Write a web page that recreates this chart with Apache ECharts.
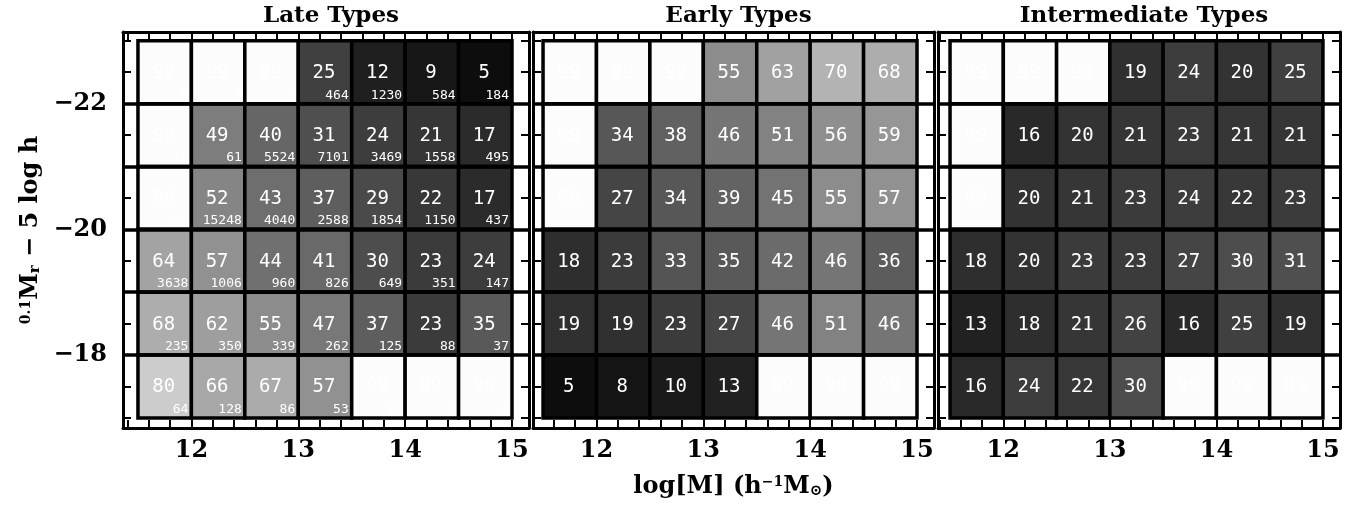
<!DOCTYPE html>
<html>
<head>
<meta charset="utf-8">
<script src="https://cdn.jsdelivr.net/npm/echarts@6.0.0/dist/echarts.min.js"></script>
<style>
html,body{margin:0;padding:0;background:#fff;}
#chart{width:1355px;height:506px;}
</style>
</head>
<body>
<div id="chart"></div>
<script>
// ---- data ----
const massEdges = [11.5, 12, 12.5, 13, 13.5, 14, 14.5, 15];
const magEdges = [-23, -22, -21, -20, -19, -18, -17];
const panelTitles = ['Late Types', 'Early Types', 'Intermediate Types'];
const xTickLabels = [12, 13, 14, 15];
const yTickLabels = [-22, -20, -18];
const xMinorTicks = [11.4, 11.6, 11.8, 12.0, 12.2, 12.4, 12.6, 12.8, 13.0, 13.2, 13.4, 13.6, 13.8, 14.0, 14.2, 14.4, 14.6, 14.8, 15.0];
const yMinorTicks = [-23, -22.5, -22, -21.5, -21, -20.5, -20, -19.5, -19, -18.5, -18, -17.5, -17];

// rows: top (-23..-22) to bottom (-18..-17); columns: 11.5-12 ... 14.5-15
const lateFrac = [
  [99, 99, 99, 25, 12, 9, 5],
  [99, 49, 40, 31, 24, 21, 17],
  [99, 52, 43, 37, 29, 22, 17],
  [64, 57, 44, 41, 30, 23, 24],
  [68, 62, 55, 47, 37, 23, 35],
  [80, 66, 67, 57, 99, 99, 99]
];
const lateCount = [
  [0, 0, 0, 464, 1230, 584, 184],
  [0, 61, 5524, 7101, 3469, 1558, 495],
  [22, 15248, 4040, 2588, 1854, 1150, 437],
  [3638, 1006, 960, 826, 649, 351, 147],
  [235, 350, 339, 262, 125, 88, 37],
  [64, 128, 86, 53, 27, 0, 0]
];
const earlyFrac = [
  [99, 99, 99, 55, 63, 70, 68],
  [99, 34, 38, 46, 51, 56, 59],
  [99, 27, 34, 39, 45, 55, 57],
  [18, 23, 33, 35, 42, 46, 36],
  [19, 19, 23, 27, 46, 51, 46],
  [5, 8, 10, 13, 99, 99, 99]
];
const interFrac = [
  [99, 99, 99, 19, 24, 20, 25],
  [99, 16, 20, 21, 23, 21, 21],
  [99, 20, 21, 23, 24, 22, 23],
  [18, 20, 23, 23, 27, 30, 31],
  [13, 18, 21, 26, 16, 25, 19],
  [16, 24, 22, 30, 99, 99, 99]
];

// ---- layout ----
const panels = [
  {left: 123, width: 406, xmin: 11.360, xmax: 15.159, frac: lateFrac, count: lateCount},
  {left: 533, width: 401, xmin: 11.406, xmax: 15.159, frac: earlyFrac, count: null},
  {left: 938, width: 402, xmin: 11.387, xmax: 15.160, frac: interFrac, count: null}
];
const gridTop = 32, gridHeight = 396;
const yMin = -23.14, yMax = -16.84;

function buildData(frac, count) {
  const out = [];
  for (let r = 0; r < magEdges.length - 1; r++) {
    for (let c = 0; c < massEdges.length - 1; c++) {
      out.push([massEdges[c], massEdges[c + 1], magEdges[r], magEdges[r + 1],
        frac[r][c], count ? count[r][c] : -1]);
    }
  }
  return out;
}

function renderItem(params, api) {
  const a = api.coord([api.value(0), api.value(2)]);
  const b = api.coord([api.value(1), api.value(3)]);
  const left = Math.min(a[0], b[0]), top = Math.min(a[1], b[1]);
  const w = Math.abs(b[0] - a[0]), h = Math.abs(b[1] - a[1]);
  const frac = api.value(4), cnt = api.value(5);
  const children = [
    {type: 'rect', shape: {x: left, y: top, width: w, height: h},
     style: {fill: api.visual('color'), stroke: '#000', lineWidth: 3.5}},
    {type: 'text', z2: 10, style: {text: String(frac), x: left + w / 2 - 1, y: top + h / 2 + 1,
      align: 'center', verticalAlign: 'middle', fill: '#fff',
      font: '19px "DejaVu Sans Mono"'}}
  ];
  if (cnt >= 0) {
    children.push({type: 'text', z2: 10, style: {text: String(cnt), x: left + w - 3, y: top + h - 2,
      align: 'right', verticalAlign: 'bottom', fill: '#fff',
      font: '13px "DejaVu Sans Mono"'}});
  }
  return {type: 'group', children: children};
}

const axisLineStyle = {show: true, onZero: false, lineStyle: {color: '#000', width: 3}};
const tickStyle = {color: '#000', width: 2};
const labelFont = {fontFamily: 'DejaVu Serif', fontSize: 24, fontWeight: 'bold', color: '#000'};
const nameFont = {fontFamily: 'DejaVu Serif', fontSize: 24, fontWeight: 'bold', color: '#000',
  rich: {sup: {fontSize: 14, fontWeight: 'bold', verticalAlign: 'top', fontFamily: 'DejaVu Serif'},
         sub: {fontSize: 15, fontWeight: 'bold', verticalAlign: 'bottom', fontFamily: 'DejaVu Serif'}}};

const grids = [], xAxes = [], yAxes = [], series = [], titles = [];
panels.forEach((p, i) => {
  grids.push({left: p.left, top: gridTop, width: p.width, height: gridHeight});
  titles.push({text: panelTitles[i], left: p.left + p.width / 2, top: 0, textAlign: 'center',
    textStyle: {fontFamily: 'DejaVu Serif', fontSize: 23, fontWeight: 'bold', color: '#000'}});
  const xt = xMinorTicks.filter(v => v >= p.xmin && v <= p.xmax);
  ['bottom', 'top'].forEach(pos => {
    const ax = {
      gridIndex: i, type: 'value', position: pos, min: p.xmin, max: p.xmax,
      axisLine: axisLineStyle,
      axisTick: {show: true, inside: true, length: 8, lineStyle: tickStyle, customValues: xt},
      axisLabel: {show: pos === 'bottom', customValues: xTickLabels, margin: 11, ...labelFont,
        formatter: v => String(v)},
      splitLine: {show: false}
    };
    if (pos === 'bottom' && i === 1) {
      ax.name = 'log[M] (h{sup|−1}M{sub|⊙})';
      ax.nameLocation = 'middle';
      ax.nameGap = 47;
      ax.nameTextStyle = nameFont;
    }
    xAxes.push(ax);
  });
  ['left', 'right'].forEach(pos => {
    const ay = {
      gridIndex: i, type: 'value', position: pos, inverse: true, min: yMin, max: yMax,
      axisLine: axisLineStyle,
      axisTick: {show: true, inside: true, length: 8, lineStyle: tickStyle, customValues: yMinorTicks},
      axisLabel: {show: pos === 'left' && i === 0, customValues: yTickLabels, margin: 16, ...labelFont,
        formatter: v => '−' + Math.abs(v)},
      splitLine: {show: false}
    };
    if (pos === 'left' && i === 0) {
      ay.name = '{sup|0.1}M{sub|r} − 5 log h';
      ay.nameLocation = 'middle';
      ay.nameRotate = 90;
      ay.nameGap = 80;
      ay.nameTextStyle = nameFont;
    }
    yAxes.push(ay);
  });
  series.push({
    type: 'custom', xAxisIndex: i * 2, yAxisIndex: i * 2,
    renderItem: renderItem,
    encode: {x: [0, 1], y: [2, 3]},
    data: buildData(p.frac, p.count),
    markLine: {
      silent: true, symbol: ['none', 'none'], label: {show: false},
      lineStyle: {color: '#000', width: 3.5, type: 'solid'},
      data: magEdges.slice(1, -1).map(v => ({yAxis: v}))
    }
  });
});

const chart = echarts.init(document.getElementById('chart'), null, {renderer: 'canvas'});
chart.setOption({
  animation: false,
  backgroundColor: '#fff',
  title: titles,
  grid: grids,
  xAxis: xAxes,
  yAxis: yAxes,
  visualMap: {type: 'continuous', show: false, min: 0, max: 100, dimension: 4,
    seriesIndex: [0, 1, 2], inRange: {color: ['#000000', '#ffffff']}},
  series: series
});
</script>
</body>
</html>
